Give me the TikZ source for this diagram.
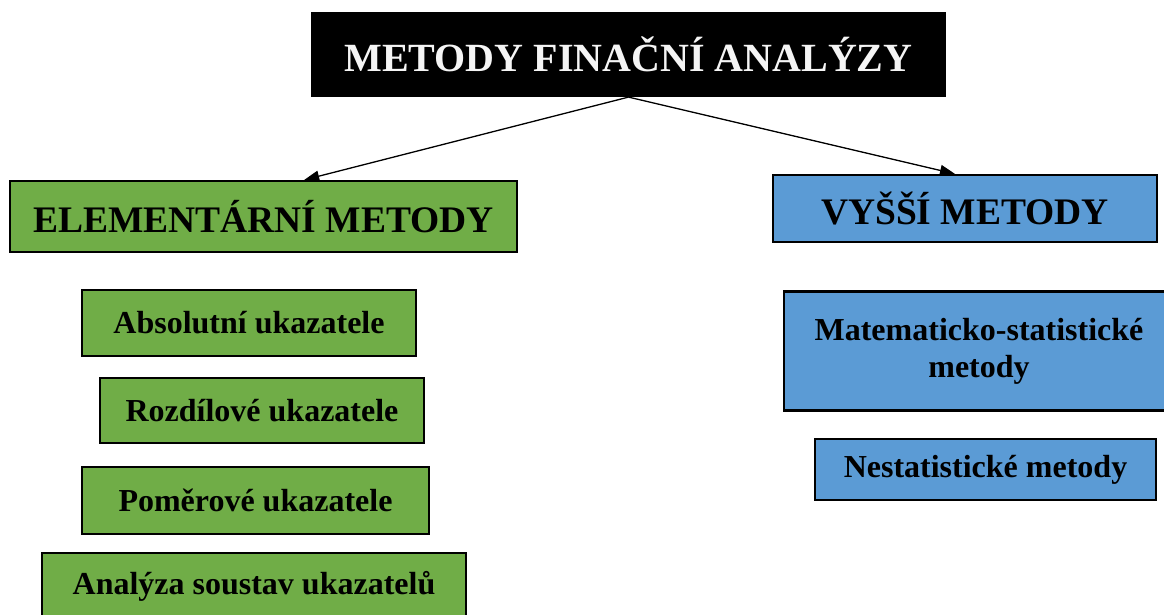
\documentclass[tikz,border=0pt]{standalone}
\usepackage{fontspec}
\setmainfont{Liberation Serif}
\usetikzlibrary{calc,arrows.meta}
\definecolor{elemgreen}{HTML}{70AD47}
\definecolor{highblue}{HTML}{5B9BD5}
\begin{document}
\begin{tikzpicture}[x=1pt,y=-1pt,
  box/.style={draw=black,line width=2.2pt,inner sep=0pt,align=center,font=\bfseries},
  greenbox/.style={box,fill=elemgreen},
  bluebox/.style={box,fill=highblue},
  headfont/.style={font=\bfseries\fontsize{37.5}{42}\selectfont},
  itemfont/.style={font=\bfseries\fontsize{32}{37}\selectfont},
  link/.style={line width=1.3pt,-{Triangle[length=15pt,width=11pt]}}]
\useasboundingbox (0,0) rectangle (1164,615);
\clip (0,0) rectangle (1164,615);
% title
\node[box,fill=black,text=gray!8,minimum width=633pt,minimum height=83pt,
  font=\bfseries\fontsize{40}{44}\selectfont] (title) at (628.5,54.5) {METODY FINAČNÍ ANALÝZY};
% main groups
\node[greenbox,headfont,minimum width=507pt,minimum height=71pt]
  (elem) at (263.5,216.5) {ELEMENTÁRNÍ METODY};
\node[bluebox,headfont,minimum width=384pt,minimum height=67pt]
  (high) at (965,208.5) {VYŠŠÍ METODY};
% elementary methods
\node[greenbox,itemfont,minimum width=334pt,minimum height=66pt]
  (abs) at (249,323) {Absolutní ukazatele};
\node[greenbox,itemfont,minimum width=324pt,minimum height=65pt]
  (roz) at (262,410.5) {Rozdílové ukazatele};
\node[greenbox,itemfont,minimum width=347pt,minimum height=67pt]
  (pom) at (255.5,500.5) {Poměrové ukazatele};
\node[greenbox,itemfont,minimum width=424pt,minimum height=66pt]
  (ana) at (254,586) {Analýza soustav ukazatelů};
% higher methods
\node[bluebox,itemfont,minimum width=390pt,minimum height=119pt]
  (mat) at (979,351) {Matematicko-statistické\\metody};
\node[bluebox,itemfont,minimum width=341pt,minimum height=61pt]
  (nest) at (985.5,469.5) {Nestatistické metody};
% connectors
\draw[link] (title.south) -- ($(elem.north west)!0.58!(elem.north east)$);
\draw[link] (title.south) -- ($(high.north west)!0.474!(high.north east)$);
\end{tikzpicture}
\end{document}
